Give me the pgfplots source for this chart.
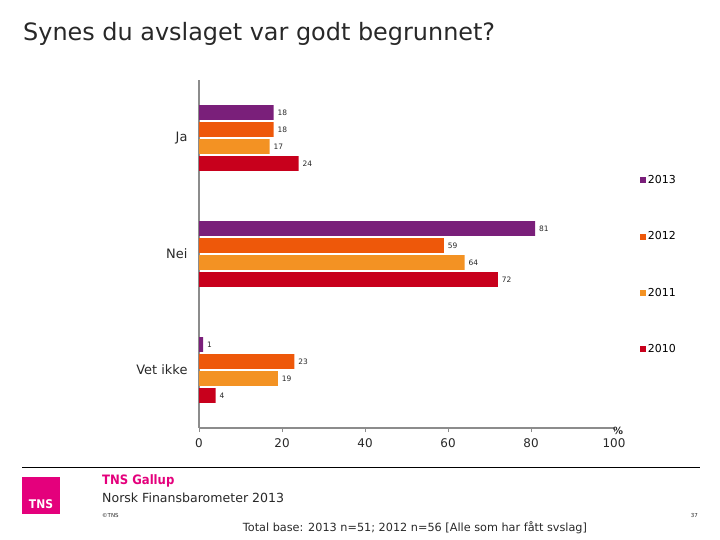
\documentclass[border=0pt]{standalone}
\usepackage{pgfplots}
\pgfplotsset{compat=1.18}
\usepackage{fontspec}
\setmainfont{DejaVu Sans}
\newfontfamily\condfont{DejaVu Sans Condensed}
\definecolor{c13}{RGB}{122,31,122}
\definecolor{c12}{RGB}{238,88,10}
\definecolor{c11}{RGB}{243,146,35}
\definecolor{c10}{RGB}{200,0,28}
\definecolor{tnspink}{RGB}{228,0,124}
\definecolor{axgray}{RGB}{140,140,140}
\definecolor{txt}{RGB}{40,40,40}
\begin{document}
\begin{tikzpicture}
\path (0,0) rectangle (720bp,-540bp);
\node[anchor=base west, inner sep=0, txt, font=\fontsize{24}{28}\selectfont] at (23bp,-40bp) {Synes du avslaget var godt begrunnet?};
\begin{axis}[
  at={(199bp,-428bp)}, anchor=south west,
  scale only axis, width=415bp, height=348bp,
  xmin=0, xmax=100, ymin=-0.5, ymax=2.5, y dir=reverse,
  xbar,
  axis x line*=bottom, axis y line*=left,
  axis line style={-, axgray, line width=1.3pt},
  xtick={0,20,40,60,80,100},
  ytick={0,1,2}, yticklabels={Ja,Nei,Vet ikke},
  y tick style={draw=none},
  x tick style={axgray, line width=1pt},
  tick align=outside, major tick length=4bp,
  /pgf/number format/assume math mode=true,
  xticklabel style={font=\fontsize{12}{14}\selectfont, txt, yshift=-3.5bp},
  yticklabel style={font=\fontsize{13}{15}\selectfont, txt, xshift=-4bp},
  bar width=0.129,
  point meta=x,
  nodes near coords,
  every node near coord/.append style={font=\fontsize{7.5}{8}\selectfont, txt, anchor=west, xshift=0.5bp},
  legend image code/.code={\fill (0bp,-3bp) rectangle (6bp,3bp);},
  legend style={at={(axis description cs:1.063,0.73)}, anchor=north west, draw=none, fill=none,
    font=\fontsize{11}{13}\selectfont, row sep=43.5bp, inner sep=0pt,
    nodes={inner sep=1.5bp}},
  legend cell align=left,
]
\addplot[xbar, fill=c13, draw=none, bar shift=-0.2198] coordinates {(18,0) (81,1) (1,2)};
\addplot[xbar, fill=c12, draw=none, bar shift=-0.0733] coordinates {(18,0) (59,1) (23,2)};
\addplot[xbar, fill=c11, draw=none, bar shift=0.0733] coordinates {(17,0) (64,1) (19,2)};
\addplot[xbar, fill=c10, draw=none, bar shift=0.2198] coordinates {(24,0) (72,1) (4,2)};
\legend{2013,2012,2011,2010}
\end{axis}
\node[font=\bfseries\fontsize{10}{11}\selectfont, txt, inner sep=0] at (618bp,-431bp) {\%};
% footer
\draw[black, line width=0.8pt] (22bp,-467bp) -- (700bp,-467bp);
\fill[tnspink] (22bp,-477bp) rectangle (60bp,-514bp);
\node[anchor=base, white, inner sep=0, font=\condfont\bfseries\fontsize{12}{13}\selectfont] at (41bp,-508bp) {TNS};
\node[anchor=base west, inner sep=0, tnspink, font=\condfont\bfseries\fontsize{13}{15}\selectfont] at (102bp,-484bp) {TNS Gallup};
\node[anchor=base west, inner sep=0, txt, font=\fontsize{12.6}{14}\selectfont] at (102bp,-502bp) {Norsk Finansbarometer 2013};
\node[anchor=base west, inner sep=0, txt, font=\fontsize{5.5}{6}\selectfont] at (102bp,-517bp) {\textcopyright TNS};
\node[anchor=base east, inner sep=0, txt, font=\fontsize{5.5}{6}\selectfont] at (698bp,-517bp) {37};
\node[anchor=base, inner sep=0, txt, font=\fontsize{11.3}{13}\selectfont] at (415bp,-531bp) {Total base: 2013 n=51; 2012 n=56 [Alle som har fått svslag]};
\end{tikzpicture}
\end{document}
